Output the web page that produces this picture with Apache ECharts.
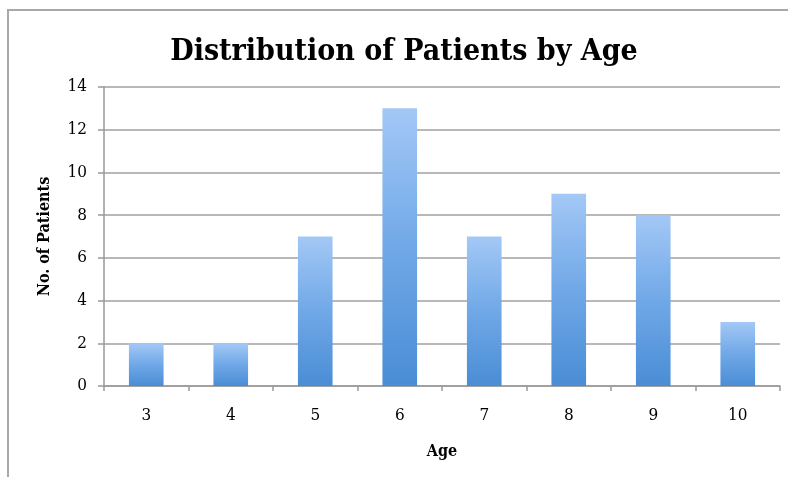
<!DOCTYPE html>
<html><head><meta charset="utf-8">
<script src="https://cdn.jsdelivr.net/npm/echarts@6/dist/echarts.min.js"></script>
<style>html,body{margin:0;padding:0;background:#fff}#c{width:788px;height:477px}</style>
</head><body><div id="c"></div>
<script>
const titleText = "Distribution of Patients by Age";
const categories = ["3","4","5","6","7","8","9","10"];
const patients = [2,2,7,13,7,9,8,3];
const yTicks = {min:0, max:14, interval:2};

const chart = echarts.init(document.getElementById('c'));
const serif = '"DejaVu Serif Condensed", "DejaVu Serif", serif';
chart.setOption({
  backgroundColor:'#fff',
  animation:false,
  graphic:[{type:'rect',shape:{x:8,y:10,width:800,height:500},style:{fill:'none',stroke:'#a8a8a8',lineWidth:2},z:-1}],
  title:{text:titleText,left:399,textAlign:'center',top:32,textStyle:{fontFamily:serif,fontWeight:'bold',fontSize:30,color:'#000'}},
  grid:{left:104,right:8,top:87,bottom:91},
  xAxis:{type:'category',data:categories,name:'Age',nameLocation:'middle',nameGap:58,
    nameTextStyle:{fontFamily:serif,fontWeight:'bold',fontSize:16,color:'#000'},
    axisLine:{lineStyle:{color:'#999',width:1.5}},
    axisTick:{show:true,length:5,lineStyle:{color:'#999',width:1.5}},
    axisLabel:{fontFamily:serif,fontSize:17,color:'#000',margin:21}},
  yAxis:{type:'value',min:yTicks.min,max:yTicks.max,interval:yTicks.interval,name:'No. of Patients',nameLocation:'middle',nameGap:51,
    nameTextStyle:{fontFamily:serif,fontWeight:'bold',fontSize:16,color:'#000'},
    axisLine:{show:true,lineStyle:{color:'#999',width:1.5}},
    axisTick:{show:true,length:6,lineStyle:{color:'#999',width:1.5}},
    splitLine:{lineStyle:{color:'#a0a0a0',width:1.5}},
    axisLabel:{fontFamily:serif,fontSize:17,color:'#000',margin:17}},
  series:[{type:'bar',data:patients,barCategoryGap:'59%',
    itemStyle:{color:new echarts.graphic.LinearGradient(0,0,0,1,[{offset:0,color:'#a3c8f6'},{offset:0.5,color:'#70a8e7'},{offset:1,color:'#4a8dd5'}])}}]
});
</script></body></html>
